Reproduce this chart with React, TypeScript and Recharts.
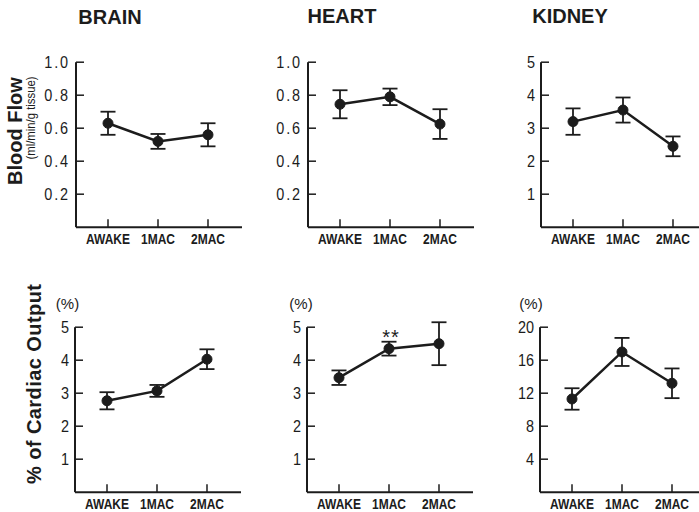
import React from 'react';
import { LineChart, Line, XAxis, YAxis, ErrorBar, ReferenceLine } from 'recharts';

const categories = ['AWAKE', '1MAC', '2MAC'];
const organs = ['BRAIN', 'HEART', 'KIDNEY'];

// Blood flow (ml/min/g tissue)
const brainFlow = [0.63, 0.52, 0.56];
const brainFlowErr = [0.07, 0.045, 0.07];
const heartFlow = [0.745, 0.79, 0.625];
const heartFlowErr = [0.085, 0.05, 0.09];
const kidneyFlow = [3.2, 3.55, 2.45];
const kidneyFlowErr = [0.4, 0.38, 0.3];

// % of cardiac output
const brainCO = [2.77, 3.07, 4.03];
const brainCOErr = [0.26, 0.18, 0.3];
const heartCO = [3.47, 4.35, 4.5];
const heartCOErr = [0.22, 0.21, 0.65];
const kidneyCO = [11.3, 17.0, 13.2];
const kidneyCOErr = [1.3, 1.7, 1.8];

const flowTicks = [0.2, 0.4, 0.6, 0.8, 1.0];
const kidneyFlowTicks = [1, 2, 3, 4, 5];
const coTicks = [1, 2, 3, 4, 5];
const kidneyCOTicks = [4, 8, 12, 16, 20];

const INK = '#1c1c1c';
const SANS = "'Liberation Sans', Arial, sans-serif";

const X_DOMAIN: [number, number] = [-0.64, 2.68];
const HEAD = 1.08;
const PLOT_W = 166;
const TICK_SPAN = 165;
const YW = 60;
const XH = 36;

function XTick(props: any) {
  const { x, y, payload } = props;
  return (
    <g transform={`translate(${x},${y})`}>
      <text
        transform="scale(0.8,1)"
        textAnchor="middle"
        dy="0.71em"
        fill={INK}
        fontFamily={SANS}
        fontWeight={700}
        fontSize={15}
      >
        {categories[payload.value]}
      </text>
    </g>
  );
}

function makeYTick(decimals: number) {
  return function YTick(props: any) {
    const { x, y, payload } = props;
    return (
      <g transform={`translate(${x},${y})`}>
        <text
          transform="scale(0.85,1)"
          textAnchor="end"
          dy="0.36em"
          fill={INK}
          fontFamily={SANS}
          fontSize={17}
          letterSpacing={decimals ? 2.2 : 0}
        >
          {Number(payload.value).toFixed(decimals)}
        </text>
      </g>
    );
  };
}

type PanelProps = {
  axisX: number;
  zeroY: number;
  values: number[];
  errs: number[];
  ticks: number[];
  decimals: number;
};

function Panel({ axisX, zeroY, values, errs, ticks, decimals }: PanelProps) {
  const yMax = ticks[ticks.length - 1];
  const plotH = TICK_SPAN * HEAD;
  const data = values.map((v, i) => ({ x: i, y: v, e: errs[i] }));
  const YTick = makeYTick(decimals);
  return (
    <div style={{ position: 'absolute', left: axisX - YW, top: zeroY - plotH }}>
      <LineChart
        width={YW + PLOT_W}
        height={plotH + XH}
        data={data}
        margin={{ top: 0, right: 0, bottom: 0, left: 0 }}
      >
        <XAxis
          type="number"
          dataKey="x"
          domain={X_DOMAIN}
          ticks={[0, 1, 2]}
          interval={0}
          height={XH}
          tickSize={-8}
          tickMargin={14}
          axisLine={{ stroke: INK, strokeWidth: 2 }}
          tickLine={{ stroke: INK, strokeWidth: 1.5 }}
          tick={<XTick />}
        />
        <YAxis
          type="number"
          domain={[0, yMax * HEAD]}
          ticks={ticks}
          interval={0}
          width={YW}
          tickSize={-8}
          tickMargin={14}
          axisLine={false}
          tickLine={{ stroke: INK, strokeWidth: 1.5 }}
          tick={<YTick />}
        />
        <ReferenceLine
          segment={[{ x: X_DOMAIN[0], y: 0 }, { x: X_DOMAIN[0], y: yMax }]}
          stroke={INK}
          strokeWidth={2}
          ifOverflow="visible"
        />
        <Line
          dataKey="y"
          stroke={INK}
          strokeWidth={2.5}
          dot={{ r: 5, fill: INK, stroke: INK, strokeWidth: 1 }}
          activeDot={false}
          isAnimationActive={false}
        >
          <ErrorBar dataKey="e" direction="y" width={7.5} stroke={INK} strokeWidth={1.8} isAnimationActive={false} />
        </Line>
      </LineChart>
    </div>
  );
}

export default function App() {
  return (
    <div
      style={{
        position: 'absolute',
        left: 0,
        top: 0,
        width: 699,
        height: 512,
        overflow: 'hidden',
        background: '#fff',
      }}
    >
      <Panel axisX={76} zeroY={227} values={brainFlow} errs={brainFlowErr} ticks={flowTicks} decimals={1} />
      <Panel axisX={308} zeroY={227} values={heartFlow} errs={heartFlowErr} ticks={flowTicks} decimals={1} />
      <Panel axisX={541} zeroY={227} values={kidneyFlow} errs={kidneyFlowErr} ticks={kidneyFlowTicks} decimals={0} />
      <Panel axisX={75} zeroY={492} values={brainCO} errs={brainCOErr} ticks={coTicks} decimals={0} />
      <Panel axisX={307} zeroY={492} values={heartCO} errs={heartCOErr} ticks={coTicks} decimals={0} />
      <Panel axisX={540} zeroY={492} values={kidneyCO} errs={kidneyCOErr} ticks={kidneyCOTicks} decimals={0} />
      <svg
        width={699}
        height={512}
        style={{ position: 'absolute', left: 0, top: 0, pointerEvents: 'none' }}
      >
        <g fill={INK} fontFamily={SANS} fontWeight={700} fontSize={20} textAnchor="middle">
          <text x={110} y={24}>{organs[0]}</text>
          <text x={342} y={23}>{organs[1]}</text>
          <text x={570} y={23}>{organs[2]}</text>
        </g>
        <text
          x={21.5}
          y={131}
          transform="rotate(-90 21.5 131)"
          textAnchor="middle"
          fontFamily={SANS}
          fontWeight={700}
          fontSize={20}
          fill={INK}
        >
          Blood Flow
        </text>
        <text
          x={35}
          y={118}
          transform="rotate(-90 35 118)"
          textAnchor="middle"
          fontFamily={SANS}
          fontSize={12}
          textLength={83}
          lengthAdjust="spacingAndGlyphs"
          fill={INK}
        >
          (ml/min/g tissue)
        </text>
        <text
          x={41}
          y={384}
          transform="rotate(-90 41 384)"
          textAnchor="middle"
          fontFamily={SANS}
          fontWeight={700}
          fontSize={20}
          textLength={200}
          lengthAdjust="spacing"
          fill={INK}
        >
          % of Cardiac Output
        </text>
        <g fill={INK} fontFamily={SANS} fontSize={15} textAnchor="middle">
          <text x={67.5} y={309}>(%)</text>
          <text x={301} y={309}>(%)</text>
          <text x={531} y={309}>(%)</text>
        </g>
        <text x={391} y={344} fill={INK} fontFamily={SANS} fontSize={20} letterSpacing={1} textAnchor="middle">
          **
        </text>
      </svg>
    </div>
  );
}
